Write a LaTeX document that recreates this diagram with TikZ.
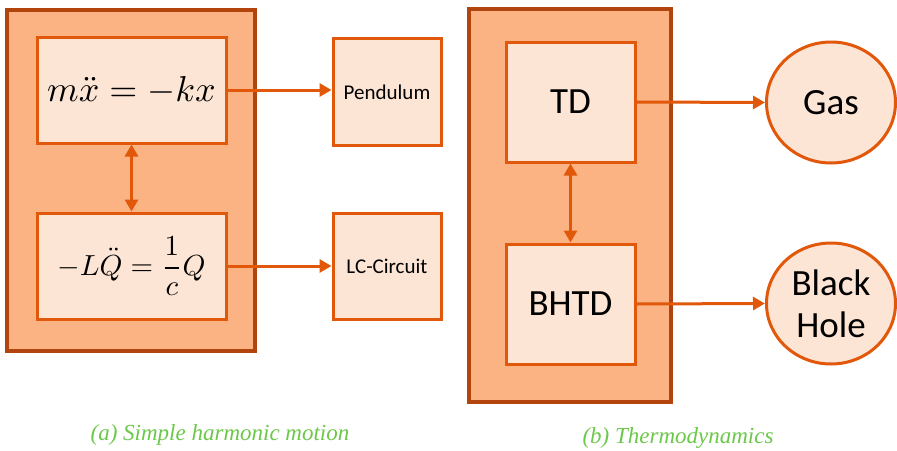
\documentclass[tikz,border=0pt]{standalone}
\usepackage{graphicx}
\usepackage{fontspec}
\usetikzlibrary{arrows.meta,shapes.geometric}
\newfontfamily\boxfont{Carlito}
\newfontfamily\capfont{Liberation Serif}
\definecolor{outerfill}{RGB}{251,179,132}
\definecolor{outerline}{RGB}{178,68,14}
\definecolor{innerfill}{RGB}{253,229,213}
\definecolor{innerline}{RGB}{226,88,10}
\definecolor{capgreen}{RGB}{108,200,72}

\begin{document}
\begin{tikzpicture}[x=1pt,y=-1pt,
  outerbox/.style={draw=outerline, fill=outerfill, line width=4pt, inner sep=0pt},
  innerbox/.style={draw=innerline, fill=innerfill, line width=3pt, inner sep=0pt},
  smalltext/.style={font=\boxfont\fontsize{21}{25}\selectfont},
  bigtext/.style={font=\boxfont\fontsize{37}{46}\selectfont, align=center},
  roundbox/.style={innerbox, ellipse, minimum width=129pt, minimum height=121pt},
  link/.style={draw=innerline, line width=3pt, -{Triangle[length=12pt,width=13pt]}},
  twoway/.style={link, {Triangle[length=12pt,width=13pt]}-{Triangle[length=12pt,width=13pt]}},
  caption/.style={text=capgreen, font=\capfont\itshape\fontsize{23}{26}\selectfont}
]
\useasboundingbox (0,0) rectangle (897,450);

% (a) harmonic oscillator
\node[outerbox, minimum width=248pt, minimum height=341pt] (shmBox) at (131,180.5) {};
\node[innerbox, minimum width=189pt, minimum height=106pt]
  (eqMass) at (131.5,90) {\scalebox{3.6}{$m\ddot{x}=-kx$}};
\node[innerbox, minimum width=189pt, minimum height=106pt]
  (eqCirc) at (131.5,266) {\scalebox{2.9}{$\displaystyle -L\ddot{Q}=\frac{1}{c}Q$}};
\node[innerbox, smalltext, minimum width=108pt, minimum height=107pt] (pend) at (387,92) {Pendulum};
\node[innerbox, smalltext, minimum width=108pt, minimum height=106pt] (lc) at (387,266) {LC-Circuit};

% (b) thermodynamics
\node[outerbox, minimum width=202pt, minimum height=393pt] (tdBox) at (570,205.5) {};
\node[innerbox, bigtext, minimum width=129pt, minimum height=120pt] (td) at (570.5,102) {TD};
\node[innerbox, bigtext, minimum width=129pt, minimum height=120pt] (bhtd) at (570.5,304) {BHTD};
\node[roundbox, bigtext] (gas) at (831,102.5) {Gas};
\node[roundbox, bigtext] (hole) at (831,303.5) {Black\\[-4pt]Hole};

\draw[link] (eqMass.east) -- (eqMass.east -| pend.west);
\draw[link] (eqCirc.east) -- (eqCirc.east -| lc.west);
\draw[twoway] (eqMass.south) -- (eqCirc.north);
\draw[link] (td.east) -- (gas.west);
\draw[link] (bhtd.east) -- (hole.west);
\draw[twoway] (td.south) -- (bhtd.north);

\node[caption] (capA) at (220,435) {(a) Simple harmonic motion};
\node[caption] (capB) at (678,438) {(b) Thermodynamics};
\end{tikzpicture}
\end{document}
